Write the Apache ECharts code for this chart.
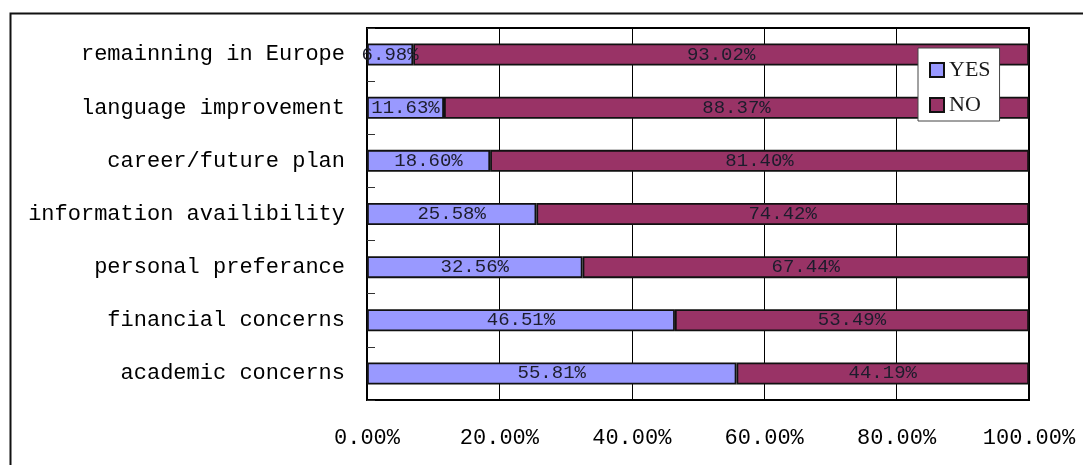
<!DOCTYPE html>
<html>
<head>
<meta charset="utf-8">
<script src="https://cdn.jsdelivr.net/npm/echarts@6/dist/echarts.min.js"></script>
<style>
  html, body { margin: 0; padding: 0; background: #ffffff; }
  #chart { width: 1083px; height: 465px; }
</style>
</head>
<body>
<div id="chart"></div>
<script>
// Reasons listed from top to bottom
const categories = [
  'remainning in Europe',
  'language improvement',
  'career/future plan',
  'information availibility',
  'personal preferance',
  'financial concerns',
  'academic concerns'
];
const yesValues = [6.98, 11.63, 18.60, 25.58, 32.56, 46.51, 55.81];
const noValues  = [93.02, 88.37, 81.40, 74.42, 67.44, 53.49, 44.19];
const xTicks = [0, 20, 40, 60, 80, 100];

const MONO = '"Liberation Mono", "DejaVu Sans Mono", monospace';
const pct = v => Number(v).toFixed(2) + '%';

const chart = echarts.init(document.getElementById('chart'), null, { renderer: 'canvas' });

const barLabel = {
  show: true,
  position: 'inside',
  fontFamily: MONO,
  fontSize: 19,
  color: '#1c1c2c',
  formatter: p => pct(p.value)
};

chart.setOption({
  animation: false,
  backgroundColor: '#ffffff',
  graphic: [{
    type: 'rect',
    left: 8, top: 11,
    shape: { width: 1300, height: 700 },
    style: { fill: 'none', stroke: '#111', lineWidth: 2 },
    silent: true
  }],
  grid: {
    left: 367, right: 54, top: 28, bottom: 65,
    show: true,
    borderColor: '#000',
    borderWidth: 2,
    backgroundColor: 'transparent'
  },
  legend: {
    orient: 'vertical',
    left: 918, top: 48,
    padding: [11, 9, 5, 11],
    itemGap: 13,
    itemWidth: 14,
    itemHeight: 14,
    icon: 'rect',
    backgroundColor: '#ffffff',
    borderColor: '#444',
    borderWidth: 1,
    textStyle: {
      fontFamily: '"Liberation Serif", "DejaVu Serif", serif',
      fontSize: 22,
      lineHeight: 20,
      color: '#1a1a1a'
    },
    data: ['YES', 'NO']
  },
  xAxis: {
    type: 'value',
    min: xTicks[0],
    max: xTicks[xTicks.length - 1],
    interval: xTicks[1] - xTicks[0],
    axisLine: { show: false },
    axisTick: { show: false },
    splitLine: { show: true, lineStyle: { color: '#000', width: 1 } },
    axisLabel: {
      margin: 27,
      fontFamily: MONO,
      fontSize: 22,
      color: '#000'
    }
  },
  yAxis: {
    type: 'category',
    inverse: true,
    data: categories,
    axisLine: { show: false },
    axisTick: {
      show: true,
      inside: true,
      length: 8,
      lineStyle: { color: '#333', width: 1 }
    },
    axisLabel: {
      margin: 22,
      fontFamily: MONO,
      fontSize: 22,
      color: '#000'
    }
  },
  series: [
    {
      name: 'YES',
      type: 'bar',
      stack: 'total',
      barWidth: 22,
      data: yesValues,
      itemStyle: { color: '#9999ff', borderColor: '#111', borderWidth: 1.8 },
      label: barLabel
    },
    {
      name: 'NO',
      type: 'bar',
      stack: 'total',
      barWidth: 22,
      data: noValues,
      itemStyle: { color: '#993366', borderColor: '#111', borderWidth: 1.8 },
      label: barLabel
    }
  ]
});
chart.setOption({ xAxis: { axisLabel: { formatter: v => pct(v) } } });
</script>
</body>
</html>
